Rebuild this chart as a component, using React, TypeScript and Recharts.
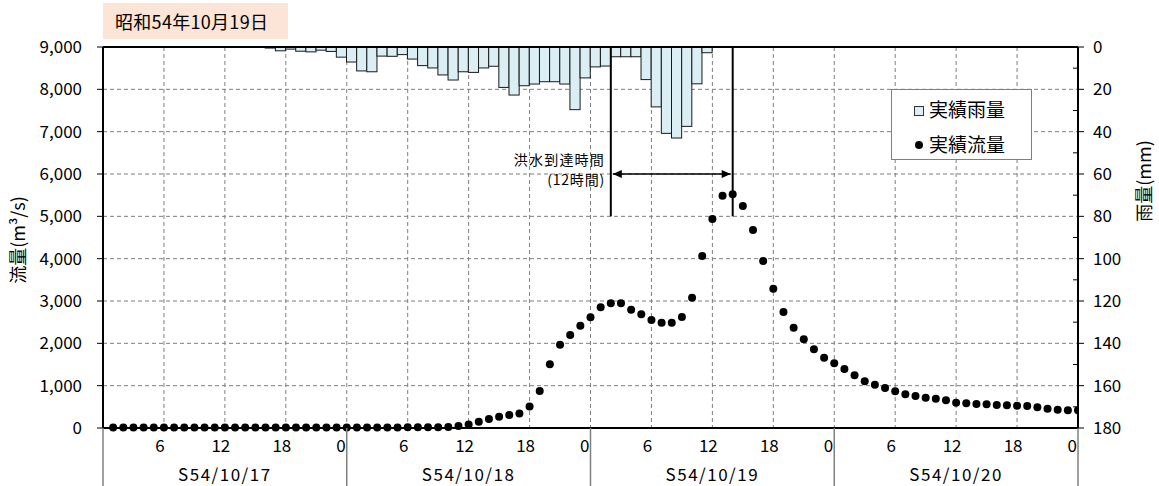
import {
  ComposedChart,
  Bar,
  Scatter,
  XAxis,
  YAxis,
  CartesianGrid,
  ReferenceLine,
} from 'recharts';

const FONT = '"Noto Sans CJK JP", "Noto Sans", sans-serif';

// 時間雨量(mm)  1時間ごと、S54/10/17 0:00 からの区間
const rainSlots: number[] = [
  0, 0, 0, 0, 0, 0, 0, 0, 0, 0, 0, 0, 0, 0, 0, 0,
  0.5, 1.8, 1.0, 2.0, 2.3, 1.5, 2.1, 4.8,
  7.1, 11.3, 11.7, 4.3, 4.4, 3.6, 5.7, 8.8,
  9.9, 13.2, 15.6, 11.7, 12.0, 9.9, 9.1, 19.1,
  22.7, 18.3, 17.5, 16.4, 16.4, 17.5, 29.6, 14.6,
  9.4, 9.0, 4.6, 4.6, 4.6, 15.4, 28.3, 40.8,
  43.0, 37.5, 17.4, 2.7, 0, 0, 0, 0,
  0, 0, 0, 0, 0, 0, 0, 0, 0, 0, 0, 0,
  0, 0, 0, 0, 0, 0, 0, 0, 0, 0, 0, 0,
  0, 0, 0, 0, 0, 0, 0, 0, 0, 0, 0, 0,
];

// 実績流量(m3/s)  1時〜96時
const flowValues: number[] = [
  10, 10, 10, 10, 10, 10, 10, 10, 10, 10, 10, 10,
  10, 10, 10, 10, 10, 10, 10, 10, 10, 10, 10, 10,
  10, 10, 10, 10, 10, 15, 15, 15, 20, 25, 45, 80,
  150, 215, 268, 307, 342, 505, 874, 1504, 1969, 2197, 2417, 2615,
  2851, 2946, 2946, 2796, 2686, 2551, 2488, 2488, 2622, 3079, 4063, 4935,
  5485, 5520, 5245, 4678, 3945, 3292, 2740, 2370, 2095, 1859, 1661, 1528,
  1394, 1244, 1103, 1024, 945, 866, 795, 756, 716, 693, 654, 598,
  583, 567, 559, 543, 535, 528, 520, 488, 457, 433, 417, 417,
];

const dayLabels = ['S54/10/17', 'S54/10/18', 'S54/10/19', 'S54/10/20'];
const hourTicks = [0, 6, 12, 18, 24, 30, 36, 42, 48, 54, 60, 66, 72, 78, 84, 90, 96];
const flowTicks = [0, 1000, 2000, 3000, 4000, 5000, 6000, 7000, 8000, 9000];
const rainTicks = [0, 10, 20, 30, 40, 50, 60, 70, 80, 90, 100, 110, 120, 130, 140, 150, 160, 170, 180];

const rainData = rainSlots.map((rain, i) => ({ t: i + 0.5, rain }));
const flowData = flowValues.map((flow, i) => ({ t: i + 1, flow }));

// 1時間幅 = 975px / 96
const HOUR_PX = 975 / 96;

function HourTick({ x, y, payload }: any) {
  const v = payload.value as number;
  const h = v % 24;
  const day = Math.floor(v / 24);
  return (
    <g>
      {h === 0 && <line x1={x} y1={y} x2={x} y2={y + 58} stroke="#808080" strokeWidth={1.5} />}
      {v !== 0 && (
        <text
          x={h === 0 ? x - 1 : x - 4}
          y={y + 24}
          textAnchor={h === 0 ? 'end' : 'middle'}
          fontSize={17}
          fontFamily={FONT}
          fill="#000"
        >
          {h}
        </text>
      )}
      {h === 12 && (
        <text x={x} y={y + 53} textAnchor="middle" fontSize={17} fontFamily={FONT} fill="#000" letterSpacing={1.5}>
          {dayLabels[day]}
        </text>
      )}
    </g>
  );
}

function RainTick({ x, y, payload }: any) {
  const v = payload.value as number;
  if (v % 20 !== 0) {
    return <line x1={x - 5} y1={y} x2={x} y2={y} stroke="#000" />;
  }
  return (
    <g>
      <line x1={x} y1={y} x2={x + 6} y2={y} stroke="#000" />
      <text x={x + 15} y={y + 6} fontSize={17} fontFamily={FONT} fill="#000">
        {v}
      </text>
    </g>
  );
}

function RainBar(p: any) {
  const h = Math.abs(Number(p.height) || 0);
  if (h < 0.01) return <g />;
  const top = Math.min(p.y, p.y + p.height);
  const cx = p.x + p.width / 2;
  return (
    <rect
      x={cx - HOUR_PX / 2}
      y={top}
      width={HOUR_PX}
      height={h}
      fill="#DAEEF3"
      stroke="#1a1a1a"
      strokeWidth={1}
    />
  );
}

function ArrowShape(props: any) {
  const { x1, y1, x2, y2 } = props;
  return (
    <g>
      <line x1={x1 + 2} y1={y1} x2={x2 - 2} y2={y2} stroke="#000" strokeWidth={1.5} />
      <polygon points={`${x1 + 2},${y1} ${x1 + 11},${y1 - 4} ${x1 + 11},${y1 + 4}`} fill="#000" />
      <polygon points={`${x2 - 2},${y2} ${x2 - 11},${y2 - 4} ${x2 - 11},${y2 + 4}`} fill="#000" />
    </g>
  );
}

export default function App() {
  return (
    <div style={{ position: 'absolute', left: 0, top: 0, width: 1159, height: 486, background: '#fff', fontFamily: FONT }}>
      <ComposedChart width={1159} height={486} data={rainData} margin={{ top: 47, right: 0, bottom: 0, left: 0 }}>
        <CartesianGrid yAxisId="left" stroke="#7f7f7f" strokeDasharray="4 3" />
        <XAxis
          dataKey="t"
          type="number"
          scale="linear"
          domain={[0, 96]}
          allowDataOverflow
          padding={{ left: 0, right: 0 }}
          ticks={hourTicks}
          interval={0}
          height={58}
          tickSize={0}
          tickMargin={0}
          tickLine={false}
          tick={<HourTick />}
          axisLine={{ stroke: '#000', strokeWidth: 2 }}
        />
        <YAxis
          yAxisId="left"
          domain={[0, 9000]}
          ticks={flowTicks}
          interval={0}
          width={103}
          tickSize={6}
          tickMargin={15}
          tickFormatter={(v: number) => v.toLocaleString('en-US')}
          tick={{ fontSize: 17, fill: '#000', fontFamily: FONT }}
          tickLine={{ stroke: '#000' }}
          axisLine={{ stroke: '#000', strokeWidth: 2 }}
        />
        <YAxis
          yAxisId="right"
          orientation="right"
          reversed
          domain={[0, 180]}
          ticks={rainTicks}
          interval={0}
          width={81}
          tickSize={0}
          tickMargin={0}
          tickLine={false}
          tick={<RainTick />}
          axisLine={{ stroke: '#000', strokeWidth: 2 }}
        />
        <ReferenceLine yAxisId="left" y={9000} stroke="#000" strokeWidth={2} />
        <Bar
          dataKey="rain"
          yAxisId="right"
          barSize={8}
          fill="#DAEEF3"
          stroke="#1a1a1a"
          shape={RainBar}
          isAnimationActive={false}
        />
        <Scatter
          data={flowData}
          dataKey="flow"
          yAxisId="left"
          isAnimationActive={false}
          shape={(p: any) => <circle cx={p.cx} cy={p.cy} r={4} fill="#000" />}
        />
        <ReferenceLine
          yAxisId="left"
          segment={[{ x: 50, y: 9000 }, { x: 50, y: 5000 }]}
          stroke="#000"
          strokeWidth={2}
        />
        <ReferenceLine
          yAxisId="left"
          segment={[{ x: 62, y: 9000 }, { x: 62, y: 5000 }]}
          stroke="#000"
          strokeWidth={2}
        />
        <ReferenceLine
          yAxisId="left"
          segment={[{ x: 50, y: 6000 }, { x: 62, y: 6000 }]}
          shape={<ArrowShape />}
        />
      </ComposedChart>

      <div
        style={{
          position: 'absolute',
          left: 103,
          top: 3,
          width: 185,
          height: 36,
          background: '#FCE4D6',
          fontSize: 18,
          lineHeight: '36px',
          paddingLeft: 12,
          boxSizing: 'border-box',
          letterSpacing: 0.3,
        }}
      >
        昭和54年10月19日
      </div>

      <div
        style={{
          position: 'absolute',
          left: 891,
          top: 89,
          width: 141,
          height: 71,
          border: '1px solid #7f7f7f',
          background: '#fff',
          boxSizing: 'border-box',
          fontSize: 19,
        }}
      >
        <div style={{ position: 'absolute', left: 22, top: 16, width: 8, height: 8, background: '#DAEEF3', border: '1px solid #333' }} />
        <div style={{ position: 'absolute', left: 37, top: 5, lineHeight: '28px' }}>実績雨量</div>
        <div style={{ position: 'absolute', left: 23, top: 51, width: 8, height: 8, borderRadius: 4, background: '#000' }} />
        <div style={{ position: 'absolute', left: 37, top: 40, lineHeight: '28px' }}>実績流量</div>
      </div>

      <div style={{ position: 'absolute', left: 405, top: 149, width: 200, height: 20, textAlign: 'right', fontSize: 14, lineHeight: '20px', letterSpacing: 1.2 }}>
        洪水到達時間
      </div>
      <div style={{ position: 'absolute', left: 405, top: 169, width: 200, height: 20, textAlign: 'right', fontSize: 14, lineHeight: '20px', letterSpacing: 0.8 }}>
        (12時間)
      </div>

      <div
        style={{
          position: 'absolute',
          left: 17,
          top: 240,
          transform: 'translate(-50%, -50%) rotate(-90deg)',
          fontSize: 18,
          whiteSpace: 'nowrap',
        }}
      >
        流量(m³/s)
      </div>
      <div
        style={{
          position: 'absolute',
          left: 1143,
          top: 181,
          transform: 'translate(-50%, -50%) rotate(-90deg)',
          fontSize: 18,
          whiteSpace: 'nowrap',
        }}
      >
        雨量(mm)
      </div>
    </div>
  );
}
